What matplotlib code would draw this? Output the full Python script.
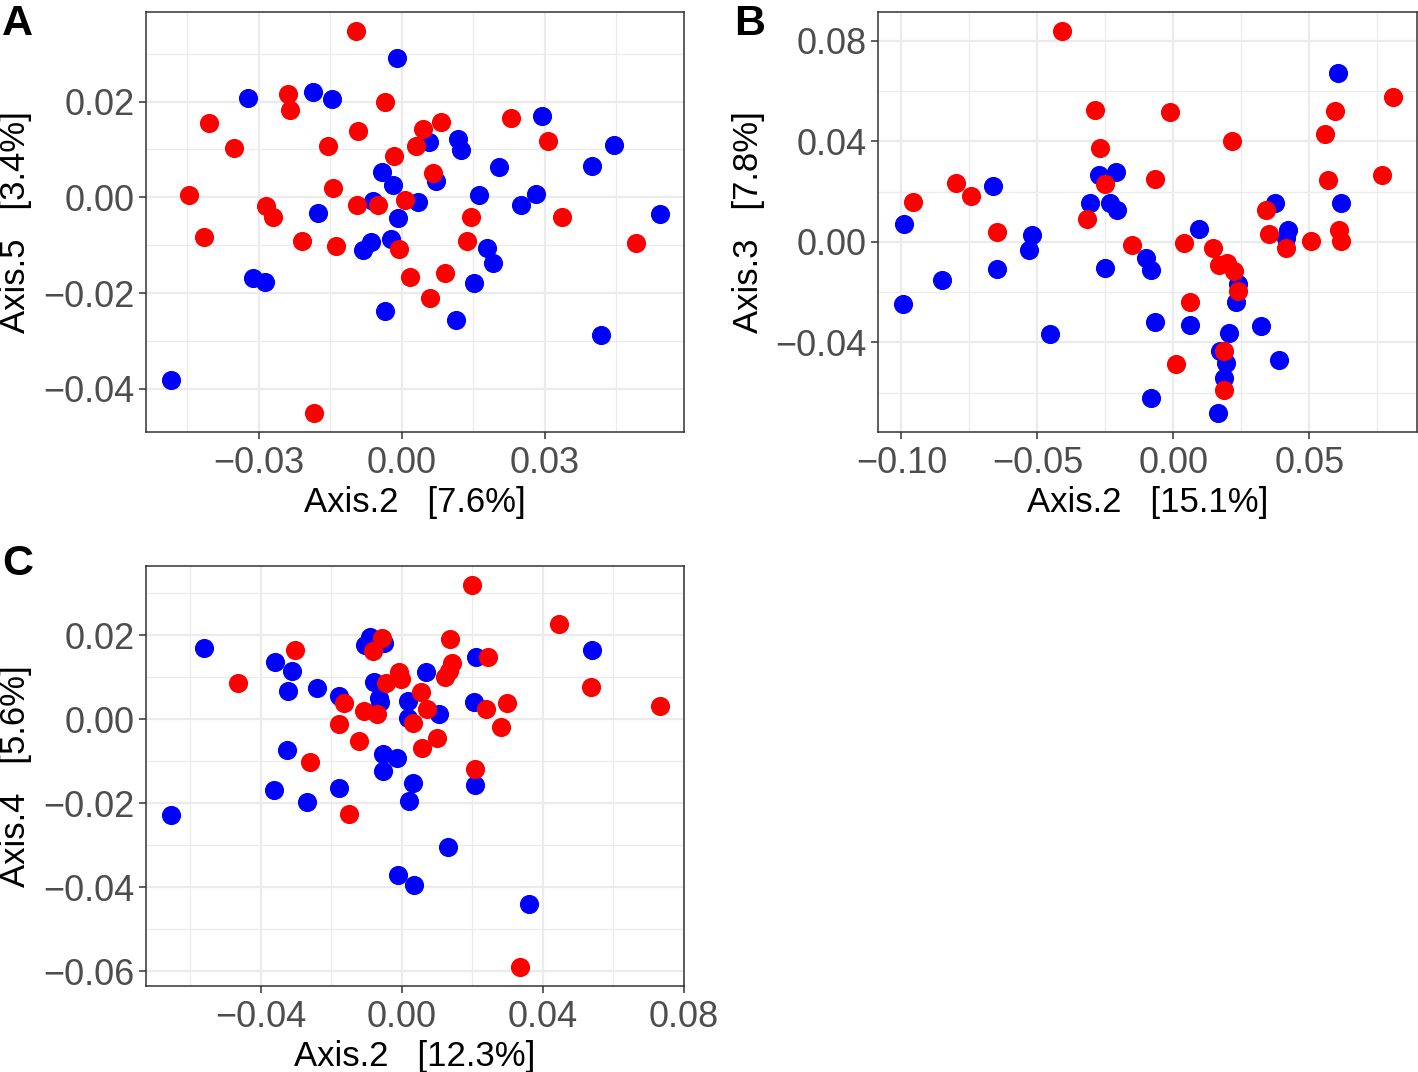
import numpy as np
import matplotlib
matplotlib.use("Agg")
import matplotlib.pyplot as plt
from matplotlib.ticker import FuncFormatter

plt.rcParams['font.family'] = ['Liberation Sans', 'DejaVu Sans']

# Panel A: Axis.2 vs Axis.5
a_red_x = [-0.0095, -0.0035, -0.0238, -0.0235, -0.0404, -0.0091, -0.0352, -0.0155, 0.0083, 0.0044,
           0.0030, -0.0016, 0.0230, 0.0307, 0.0066, -0.0144, -0.0446, -0.0285, -0.0271, -0.0093,
           -0.0050, 0.0006, 0.0146, 0.0337, -0.0415, -0.0210, -0.0138, -0.0006, 0.0136, 0.0492,
           0.0018, 0.0091, 0.0060, -0.0184]
a_red_y = [0.0347, 0.0200, 0.0215, 0.0182, 0.0156, 0.0138, 0.0103, 0.0108, 0.0157, 0.0143,
           0.0107, 0.0086, 0.0165, 0.0118, 0.0050, 0.0019, 0.0004, -0.0019, -0.0042, -0.0017,
           -0.0017, -0.0006, -0.0040, -0.0042, -0.0083, -0.0092, -0.0101, -0.0108, -0.0092, -0.0095,
           -0.0167, -0.0158, -0.0210, -0.0450]
a_blue_x = [-0.0009, -0.0322, -0.0187, -0.0146, 0.0295, 0.0119, 0.0124, 0.0058, 0.0446, 0.0400,
            0.0205, -0.0042, -0.0019, 0.0072, 0.0163, 0.0282, 0.0251, -0.0061, 0.0035, -0.0176,
            -0.0008, 0.0541, -0.0064, -0.0082, -0.0022, 0.0179, 0.0191, -0.0312, -0.0287, 0.0152,
            -0.0035, 0.0114, 0.0418, -0.0485]
a_blue_y = [0.0290, 0.0207, 0.0220, 0.0206, 0.0169, 0.0121, 0.0098, 0.0115, 0.0109, 0.0065,
            0.0063, 0.0053, 0.0026, 0.0035, 0.0004, 0.0007, -0.0017, -0.0008, -0.0010, -0.0032,
            -0.0044, -0.0035, -0.0094, -0.0110, -0.0086, -0.0105, -0.0137, -0.0168, -0.0177, -0.0179,
            -0.0237, -0.0256, -0.0288, -0.0381]

# Panel B: Axis.2 vs Axis.3
b_red_x = [-0.0408, -0.0288, -0.0013, 0.0217, -0.0270, -0.0068, -0.0251, -0.0799, -0.0745, -0.0958,
           -0.0319, -0.0650, -0.0153, 0.0038, 0.0145, 0.0167, 0.0197, 0.0223, 0.0239, 0.0061,
           0.0186, 0.0011, 0.0187, 0.0340, 0.0352, 0.0413, 0.0506, 0.0611, 0.0617, 0.0569,
           0.0557, 0.0595, 0.0806, 0.0768]
b_red_y = [0.0838, 0.0526, 0.0515, 0.0400, 0.0375, 0.0251, 0.0232, 0.0236, 0.0182, 0.0159,
           0.0090, 0.0038, -0.0013, -0.0003, -0.0024, -0.0092, -0.0085, -0.0115, -0.0194, -0.0240,
           -0.0432, -0.0485, -0.0590, 0.0125, 0.0030, -0.0026, 0.0004, 0.0048, 0.0003, 0.0248,
           0.0427, 0.0520, 0.0576, 0.0266]
b_blue_x = [0.0604, 0.0617, 0.0374, 0.0420, 0.0414, 0.0096, -0.0275, -0.0211, -0.0663, -0.0307,
            -0.0232, -0.0206, -0.0992, -0.0519, -0.0532, -0.0650, -0.0852, -0.0996, -0.0253, -0.0100,
            -0.0083, 0.0239, 0.0230, -0.0066, 0.0063, 0.0205, 0.0324, -0.0455, 0.0172, 0.0192,
            0.0188, 0.0390, -0.0082, 0.0164]
b_blue_y = [0.0672, 0.0155, 0.0156, 0.0048, 0.0017, 0.0050, 0.0266, 0.0279, 0.0221, 0.0156,
            0.0156, 0.0125, 0.0070, 0.0026, -0.0033, -0.0108, -0.0151, -0.0248, -0.0102, -0.0065,
            -0.0112, -0.0168, -0.0240, -0.0318, -0.0329, -0.0363, -0.0336, -0.0367, -0.0435, -0.0480,
            -0.0542, -0.0469, -0.0620, -0.0680]

# Panel C: Axis.2 vs Axis.4
c_red_x = [0.0200, 0.0446, 0.0538, 0.0732, -0.0304, -0.0465, -0.0056, -0.0080, 0.0138, 0.0142,
           0.0134, 0.0123, 0.0244, -0.0007, -0.0002, -0.0044, 0.0054, 0.0071, 0.0031, -0.0070,
           -0.0107, -0.0165, -0.0177, -0.0120, 0.0099, 0.0059, 0.0240, 0.0299, 0.0283, -0.0261,
           -0.0149, 0.0209, 0.0335]
c_red_y = [0.0319, 0.0227, 0.0077, 0.0032, 0.0164, 0.0086, 0.0193, 0.0161, 0.0191, 0.0134,
           0.0114, 0.0100, 0.0147, 0.0112, 0.0096, 0.0086, 0.0065, 0.0025, -0.0010, 0.0011,
           0.0019, 0.0039, -0.0012, -0.0051, -0.0044, -0.0069, 0.0025, 0.0039, -0.0018, -0.0103,
           -0.0226, -0.0118, -0.0590]
c_blue_x = [-0.0561, 0.0539, -0.0091, -0.0104, -0.0051, 0.0212, -0.0359, -0.0310, -0.0322, -0.0239,
            -0.0177, -0.0079, -0.0064, -0.0061, 0.0017, 0.0068, 0.0106, 0.0019, 0.0204, -0.0324,
            -0.0054, -0.0012, -0.0052, 0.0032, 0.0021, -0.0179, -0.0362, -0.0270, 0.0209, -0.0656,
            0.0132, -0.0009, 0.0036, 0.0360]
c_blue_y = [0.0169, 0.0165, 0.0195, 0.0177, 0.0181, 0.0149, 0.0137, 0.0115, 0.0067, 0.0074,
            0.0055, 0.0089, 0.0051, 0.0040, 0.0044, 0.0113, 0.0011, 0.0003, 0.0041, -0.0074,
            -0.0084, -0.0092, -0.0123, -0.0153, -0.0194, -0.0165, -0.0168, -0.0197, -0.0157, -0.0229,
            -0.0304, -0.0370, -0.0396, -0.0441]

RED = "#FF0000"
BLUE = "#0000FF"


def fmt(v, pos):
    s = "%.2f" % v
    if s == "-0.00":
        s = "0.00"
    return s.replace("-", "\u2212")


def panel(ax, bx, by, rx, ry, xmaj, xmin, ymaj, ymin, xlabel, ylabel):
    ax.scatter(bx, by, s=190, c=BLUE, linewidths=0, zorder=3)
    ax.scatter(rx, ry, s=190, c=RED, linewidths=0, zorder=3)
    ax.margins(0.05)
    ax.set_xticks(xmaj)
    ax.set_xticks(xmin, minor=True)
    ax.set_yticks(ymaj)
    ax.set_yticks(ymin, minor=True)
    ax.xaxis.set_major_formatter(FuncFormatter(fmt))
    ax.yaxis.set_major_formatter(FuncFormatter(fmt))
    ax.grid(which="major", color="#EBEBEB", linewidth=1.6, zorder=0)
    ax.grid(which="minor", color="#EBEBEB", linewidth=0.9, zorder=0)
    ax.set_axisbelow(True)
    ax.tick_params(which="major", labelsize=26, colors="#333333", labelcolor="#4D4D4D",
                   length=5, width=1.1, pad=3)
    ax.tick_params(axis="x", which="major", pad=5)
    ax.tick_params(which="minor", length=0)
    for sp in ax.spines.values():
        sp.set_color("#333333")
        sp.set_linewidth(1.1)
    ax.set_xlabel(xlabel, fontsize=25, color="black", labelpad=4)
    ax.set_ylabel(ylabel, fontsize=25, color="black", labelpad=8)


fig = plt.figure(figsize=(14.18, 10.72), dpi=100)
ax_a = fig.add_axes([0.1030, 0.5970, 0.3794, 0.3918])
ax_b = fig.add_axes([0.6192, 0.5970, 0.3801, 0.3918])
ax_c = fig.add_axes([0.1030, 0.0802, 0.3794, 0.3918])

panel(ax_a, a_blue_x, a_blue_y, a_red_x, a_red_y,
      [-0.03, 0.0, 0.03], [-0.045, -0.015, 0.015, 0.045],
      [-0.04, -0.02, 0.0, 0.02], [-0.03, -0.01, 0.01, 0.03],
      "Axis.2   [7.6%]", "Axis.5   [3.4%]")
panel(ax_b, b_blue_x, b_blue_y, b_red_x, b_red_y,
      [-0.10, -0.05, 0.0, 0.05], [-0.075, -0.025, 0.025, 0.075],
      [-0.04, 0.0, 0.04, 0.08], [-0.06, -0.02, 0.02, 0.06],
      "Axis.2   [15.1%]", "Axis.3   [7.8%]")
panel(ax_c, c_blue_x, c_blue_y, c_red_x, c_red_y,
      [-0.04, 0.0, 0.04, 0.08], [-0.06, -0.02, 0.02, 0.06],
      [-0.06, -0.04, -0.02, 0.0, 0.02], [-0.05, -0.03, -0.01, 0.01, 0.03],
      "Axis.2   [12.3%]", "Axis.4   [5.6%]")

# panel letters
for letter, px, py in [("A", 2, 4), ("B", 734, 4), ("C", 2, 544)]:
    fig.text(px / 1418, 1 - py / 1072, letter, fontsize=31, fontweight="bold",
             ha="left", va="top")

fig.savefig("out.png", dpi=100)
